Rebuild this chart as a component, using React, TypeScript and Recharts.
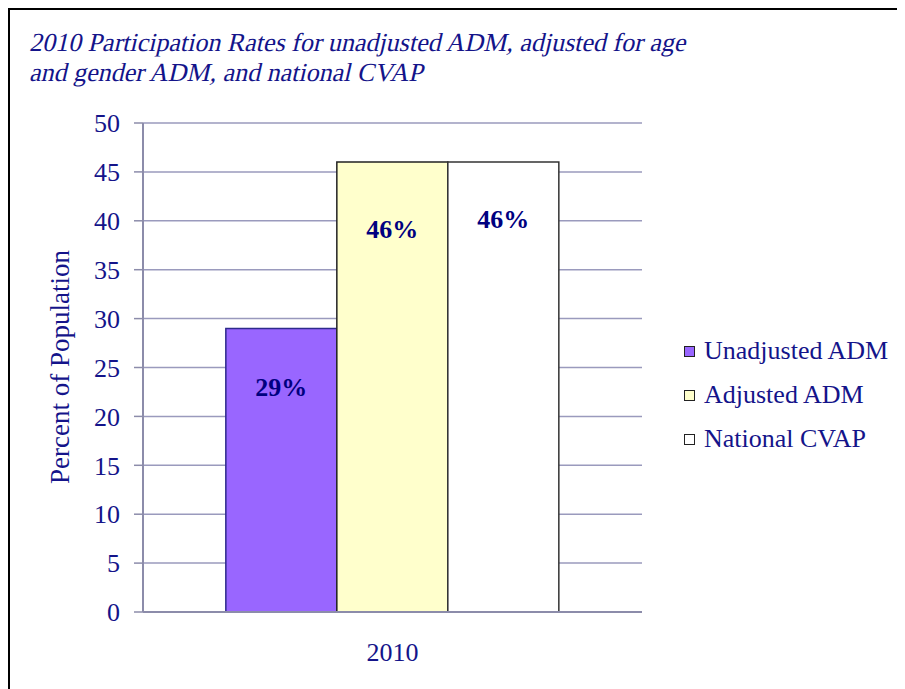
import { Bar, BarChart, CartesianGrid, LabelList, XAxis, YAxis } from 'recharts';

const categories = ['2010'];
const unadjusted = [29];
const adjusted = [46];
const nationalCvap = [46];
const yTicks = [0, 5, 10, 15, 20, 25, 30, 35, 40, 45, 50];
const titleLines = ['2010 Participation Rates for unadjusted ADM, adjusted for age', 'and gender ADM, and national CVAP'];

const series = [
  { key: 'unadjusted', name: 'Unadjusted ADM', values: unadjusted, fill: '#9966ff', stroke: '#2e2a8c', labelDy: 59 },
  { key: 'adjusted', name: 'Adjusted ADM', values: adjusted, fill: '#ffffcc', stroke: '#222222', labelDy: 67 },
  { key: 'national', name: 'National CVAP', values: nationalCvap, fill: '#ffffff', stroke: '#333333', labelDy: 57 },
];

const data = categories.map((year, i) => ({
  year,
  unadjusted: unadjusted[i],
  adjusted: adjusted[i],
  national: nationalCvap[i],
}));

const font = '"Liberation Serif", "Times New Roman", serif';
const navy = '#14148a';

function makeBarLabel(dy: number) {
  return (props: any) => {
    const { x, y, width, value } = props;
    return (
      <text
        x={Number(x) + Number(width) / 2}
        y={Number(y) + dy}
        textAnchor="middle"
        dominantBaseline="central"
        fontFamily={font}
        fontSize={26}
        fontWeight="bold"
        fill="#000080"
      >
        {value}%
      </text>
    );
  };
}

function YearTick(props: any) {
  const { x, y, payload } = props;
  return (
    <text x={x} y={Number(y) + 49} textAnchor="middle" fontFamily={font} fontSize={26} fill={navy}>
      {payload.value}
    </text>
  );
}

function YLabel() {
  return (
    <text
      x={52}
      y={359}
      transform="rotate(-90 52 359)"
      textAnchor="middle"
      dominantBaseline="central"
      fontFamily={font}
      fontSize={27}
      fill={navy}
    >
      Percent of Population
    </text>
  );
}

function LegendBox() {
  return (
    <div style={{ position: 'absolute', left: 676, top: 321, fontFamily: font, fontSize: 26, color: navy }}>
      {series.map((s) => (
        <div key={s.key} style={{ height: 44, display: 'flex', alignItems: 'center' }}>
          <span
            style={{
              display: 'inline-block',
              width: 9,
              height: 9,
              background: s.fill,
              border: '1px solid #222',
              marginRight: 9,
            }}
          />
          <span style={{ whiteSpace: 'nowrap' }}>{s.name}</span>
        </div>
      ))}
    </div>
  );
}

export default function App() {
  return (
    <div style={{ position: 'relative', width: 897, height: 681, overflow: 'hidden', background: '#fff' }}>
      <div
        style={{
          position: 'absolute',
          left: 0,
          top: 0,
          width: 980,
          height: 780,
          border: '2px solid #000',
          boxSizing: 'border-box',
        }}
      />
      <div
        style={{
          position: 'absolute',
          left: 21,
          top: 20,
          fontFamily: font,
          fontSize: 26,
          lineHeight: '30px',
          color: navy,
          whiteSpace: 'nowrap',
        }}
      >
        {titleLines.map((line) => (
          <div key={line} style={{ transform: 'skewX(-13deg)', transformOrigin: 'left 75%' }}>
            {line}
          </div>
        ))}
      </div>
      <div style={{ position: 'absolute', left: 0, top: 0 }}>
        <BarChart
          width={897}
          height={681}
          data={data}
          margin={{ top: 115, right: 263, bottom: 27, left: 65 }}
          barGap={0}
          barCategoryGap="16.6%"
        >
          <CartesianGrid horizontal vertical={false} stroke="#9a9abd" strokeWidth={1.5} />
          <XAxis
            dataKey="year"
            height={50}
            tick={<YearTick />}
            tickLine={false}
            tickSize={0}
            tickMargin={0}
            axisLine={{ stroke: '#8c8caa', strokeWidth: 2 }}
          />
          <XAxis
            xAxisId="top"
            orientation="top"
            dataKey="year"
            height={0}
            tick={false}
            tickLine={false}
            axisLine={{ stroke: '#404040', strokeWidth: 2 }}
          />
          <YAxis
            domain={[0, 50]}
            ticks={yTicks}
            width={70}
            interval={0}
            tickSize={9}
            tickMargin={14}
            tickLine={{ stroke: '#8c8caa', strokeWidth: 1.5 }}
            axisLine={{ stroke: '#8c8caa', strokeWidth: 2 }}
            tick={{ fontFamily: font, fontSize: 26, fill: navy }}
            label={<YLabel />}
          />
          <YAxis
            yAxisId="right"
            orientation="right"
            domain={[0, 50]}
            width={0}
            tick={false}
            tickLine={false}
            axisLine={{ stroke: '#404040', strokeWidth: 2 }}
          />
          {series.map((s) => (
            <Bar
              key={s.key}
              dataKey={s.key}
              name={s.name}
              fill={s.fill}
              stroke={s.stroke}
              strokeWidth={1.5}
              isAnimationActive={false}
            >
              <LabelList dataKey={s.key} content={makeBarLabel(s.labelDy)} />
            </Bar>
          ))}
        </BarChart>
      </div>
      <LegendBox />
    </div>
  );
}
